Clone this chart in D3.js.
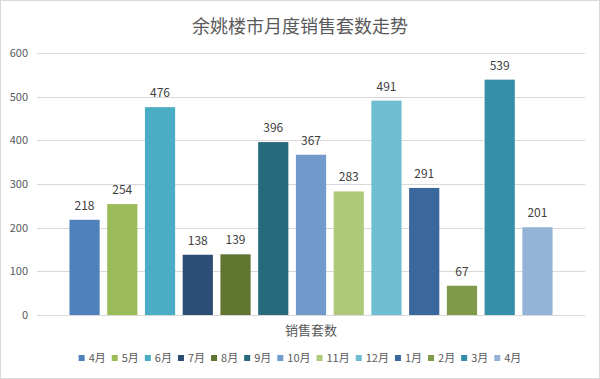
<!DOCTYPE html>
<html>
<head>
<meta charset="utf-8">
<script src="https://cdn.jsdelivr.net/npm/d3@7"></script>
<style>
  body { margin: 0; background: #fff; }
  svg { display: block; font-family: "Microsoft YaHei", "Noto Sans CJK SC", sans-serif; }
</style>
</head>
<body>
<svg width="600" height="379"></svg>
<script>
// each month is its own series inside a single category
var months = ["4月", "5月", "6月", "7月", "8月", "9月", "10月", "11月", "12月", "1月", "2月", "3月", "4月"];
var sales = [218, 254, 476, 138, 139, 396, 367, 283, 491, 291, 67, 539, 201];
var colors = ["#4f81bd", "#9bbb59", "#4bacc6", "#2c4d75", "#5f7530", "#276a7c", "#729aca",
              "#afc97a", "#6fbdd1", "#3a679c", "#7f9a48", "#358fa9", "#95b3d7"];
var yTicks = [0, 100, 200, 300, 400, 500, 600];
var category = "销售套数";
var title = "余姚楼市月度销售套数走势";

var svg = d3.select("svg");
var W = 600, H = 379;

svg.append("rect")
    .attr("x", 0.5).attr("y", 0.5)
    .attr("width", W - 1).attr("height", H - 1)
    .attr("fill", "#fff").attr("stroke", "#d9d9d9");

var plotLeft = 37, plotRight = 585, plotTop = 53, plotBottom = 315;

var y = d3.scaleLinear().domain([0, 600]).range([plotBottom, plotTop]);
var x = d3.scaleBand()
    .domain(d3.range(sales.length))
    .range([plotLeft, plotRight])
    .paddingInner(0.2)
    .paddingOuter(0.86);

// gridlines
svg.append("g").selectAll("line")
    .data(yTicks)
    .enter().append("line")
    .attr("x1", plotLeft).attr("x2", plotRight)
    .attr("y1", function(d) { return Math.round(y(d)) + 0.5; })
    .attr("y2", function(d) { return Math.round(y(d)) + 0.5; })
    .attr("stroke", "#d9d9d9");

// y labels
svg.append("g").selectAll("text")
    .data(yTicks)
    .enter().append("text")
    .attr("x", 28)
    .attr("y", function(d) { return y(d) + 4; })
    .attr("text-anchor", "end")
    .attr("font-size", 11)
    .attr("fill", "#595959")
    .text(function(d) { return d; });

// bars
svg.append("g").selectAll("rect")
    .data(sales)
    .enter().append("rect")
    .attr("x", function(d, i) { return x(i); })
    .attr("y", function(d) { return y(d); })
    .attr("width", x.bandwidth())
    .attr("height", function(d) { return y(0) - y(d); })
    .attr("fill", function(d, i) { return colors[i]; });

// value labels
svg.append("g").selectAll("text")
    .data(sales)
    .enter().append("text")
    .attr("x", function(d, i) { return x(i) + x.bandwidth() / 2; })
    .attr("y", function(d) { return y(d) - 10; })
    .attr("text-anchor", "middle")
    .attr("font-size", 12)
    .attr("fill", "#404040")
    .text(function(d) { return d; });

// title
svg.append("text")
    .attr("x", W / 2).attr("y", 33)
    .attr("text-anchor", "middle")
    .attr("font-size", 18)
    .attr("fill", "#595959")
    .text(title);

// category label
svg.append("text")
    .attr("x", (plotLeft + plotRight) / 2).attr("y", 335)
    .attr("text-anchor", "middle")
    .attr("font-size", 13)
    .attr("fill", "#595959")
    .text(category);

// legend
var legend = svg.append("g");
var items = legend.selectAll("g")
    .data(months)
    .enter().append("g");
items.append("rect")
    .attr("width", 6).attr("height", 6)
    .attr("y", -7)
    .attr("fill", function(d, i) { return colors[i]; });
items.append("text")
    .attr("x", 10)
    .attr("font-size", 11)
    .attr("fill", "#595959")
    .text(function(d) { return d; });

var lx = 0;
items.each(function() {
    var w = this.querySelector("text").getComputedTextLength();
    d3.select(this).attr("transform", "translate(" + lx + ",0)");
    lx += 10 + w + 6;
});
legend.attr("transform", "translate(" + ((W - (lx - 6)) / 2) + ",362)");
</script>
</body>
</html>
